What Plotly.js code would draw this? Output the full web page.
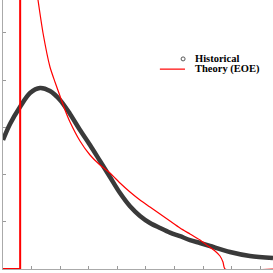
<!DOCTYPE html>
<html>
<head>
<meta charset="utf-8">
<script src="https://cdn.plot.ly/plotly-3.0.1.min.js"></script>
<style>html,body{margin:0;padding:0;background:#fff;}#chart{width:273px;height:273px;}</style>
</head>
<body>
<div id="chart"></div>
<script>
// Historical distribution
var histX = [0, 0.245, 0.594, 0.944, 1.294, 1.643, 1.993, 2.343, 2.692, 3.042, 3.392, 3.741, 4.091, 4.441, 4.790, 5.140, 5.490, 5.839, 6.189, 6.538, 6.888, 7.238, 7.937, 8.636, 9.441];
var histY = [2.733, 3.072, 3.432, 3.729, 3.835, 3.771, 3.581, 3.284, 2.945, 2.627, 2.288, 1.949, 1.610, 1.330, 1.125, 0.975, 0.869, 0.770, 0.695, 0.614, 0.551, 0.487, 0.360, 0.275, 0.233];

// Theory (EOE) curve
var theoryX = [1.224, 1.399, 1.643, 1.818, 1.993, 2.168, 2.343, 2.692, 3.042, 3.392, 3.741, 4.091, 4.441, 4.790, 5.140, 5.490, 5.839, 6.189, 6.538, 6.888, 7.168, 7.413, 7.587, 7.692, 7.762, 9.441];
var theoryY = [5.699, 5.000, 4.280, 3.962, 3.665, 3.369, 3.114, 2.712, 2.415, 2.203, 2.034, 1.822, 1.631, 1.462, 1.314, 1.165, 1.017, 0.869, 0.742, 0.614, 0.487, 0.381, 0.275, 0.148, 0, 0];

// Theory lower bound (zero below, vertical edge)
var edgeX = [0, 0.6, 0.6];
var edgeY = [0, 0, 10];

var legendLabels = ["Historical", "Theory (EOE)"];

var traces = [
  {x: histX, y: histY, mode: 'lines', line: {color: '#3a3a3a', width: 4.5, shape: 'spline', smoothing: 0.9}, showlegend: false, name: legendLabels[0]},
  {x: edgeX, y: edgeY, mode: 'lines', line: {color: '#ff0000', width: 2}, showlegend: false, name: legendLabels[1]},
  {x: theoryX, y: theoryY, mode: 'lines', line: {color: '#ff0000', width: 1.2, shape: 'spline', smoothing: 0.6}, showlegend: false, name: legendLabels[1]}
];

var fontL = {family: 'Liberation Serif, Times New Roman, serif', size: 10.5, color: '#000', weight: 'bold'};

var layout = {
  width: 273, height: 273,
  margin: {l: 3, r: 0, t: 0, b: 4, pad: 0},
  paper_bgcolor: '#fff', plot_bgcolor: '#fff',
  showlegend: false,
  xaxis: {range: [0, 9.441], showgrid: false, zeroline: false, showticklabels: false,
          ticks: 'inside', ticklen: 3, tickcolor: '#999', dtick: 1, tick0: 0,
          showline: true, linecolor: '#aaa', linewidth: 1},
  yaxis: {range: [0, 5.699], showgrid: false, zeroline: false, showticklabels: false,
          ticks: 'inside', ticklen: 3, tickcolor: '#999', dtick: 1, tick0: 0,
          showline: true, linecolor: '#aaa', linewidth: 1},
  annotations: [
    {xref: 'paper', yref: 'paper', x: 0.704, y: 0.781, xanchor: 'left', yanchor: 'middle', text: legendLabels[0], showarrow: false, font: fontL},
    {xref: 'paper', yref: 'paper', x: 0.704, y: 0.743, xanchor: 'left', yanchor: 'middle', text: legendLabels[1], showarrow: false, font: fontL}
  ],
  shapes: [
    {type: 'circle', xref: 'paper', yref: 'paper', xsizemode: 'pixel', ysizemode: 'pixel',
     xanchor: 0.667, yanchor: 0.781, x0: -2, x1: 2, y0: -2, y1: 2, line: {color: '#555', width: 1}},
    {type: 'line', xref: 'paper', yref: 'paper', x0: 0.581, x1: 0.674, y0: 0.743, y1: 0.743, line: {color: '#ff0000', width: 1.2}}
  ]
};

Plotly.newPlot('chart', traces, layout, {displayModeBar: false, staticPlot: true});
</script>
</body>
</html>
